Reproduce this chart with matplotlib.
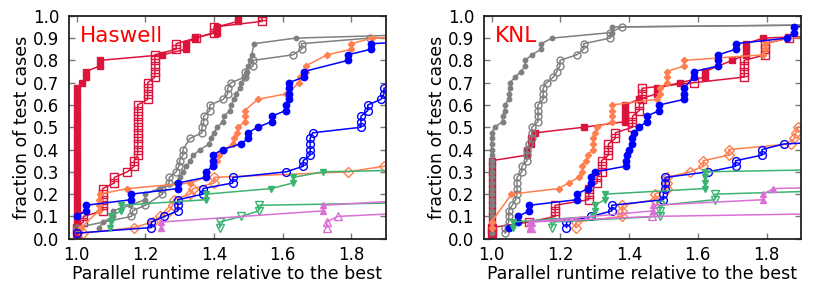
import matplotlib
matplotlib.use("Agg")
import matplotlib.pyplot as plt

# ---------------- Haswell ----------------
h_crimson_f_x = [1.0]*27 + [1.017, 1.027, 1.027, 1.068, 1.068, 1.25, 1.318, 1.318, 1.344, 1.408, 1.408, 1.47, 1.47]
h_crimson_f_y = [0.025, 0.05, 0.075, 0.1, 0.125, 0.15, 0.175, 0.2, 0.225, 0.25, 0.275, 0.3, 0.325, 0.35,
                 0.375, 0.4, 0.425, 0.45, 0.475, 0.5, 0.525, 0.55, 0.575, 0.6, 0.625, 0.65, 0.675,
                 0.7, 0.725, 0.75, 0.775, 0.8, 0.825, 0.85, 0.875, 0.9, 0.925, 0.95, 0.975, 1.0]
h_crimson_o_x = [1.0, 1.0, 1.02, 1.02, 1.076, 1.076, 1.076, 1.076, 1.076, 1.11, 1.11, 1.148, 1.168, 1.168,
                 1.178, 1.178, 1.178, 1.178, 1.178, 1.178, 1.178, 1.178, 1.178, 1.178,
                 1.207, 1.207, 1.207, 1.207, 1.228, 1.228, 1.228, 1.228, 1.228,
                 1.29, 1.29, 1.347, 1.40, 1.40, 1.54, 1.54]
h_crimson_o_y = [0.025, 0.05, 0.075, 0.1, 0.125, 0.15, 0.175, 0.2, 0.225, 0.25, 0.275, 0.3, 0.325, 0.35,
                 0.375, 0.4, 0.425, 0.45, 0.475, 0.5, 0.525, 0.55, 0.575, 0.6,
                 0.625, 0.65, 0.675, 0.7, 0.725, 0.75, 0.775, 0.8, 0.825,
                 0.85, 0.875, 0.9, 0.925, 0.95, 0.975, 1.0]
h_gray_f_x = [1.066, 1.077, 1.106, 1.106, 1.155, 1.2, 1.2, 1.24, 1.29, 1.30, 1.31, 1.32, 1.33, 1.34, 1.36,
              1.386, 1.39, 1.40, 1.41, 1.426, 1.43, 1.446, 1.45, 1.458, 1.465, 1.475, 1.48, 1.49, 1.495,
              1.50, 1.505, 1.51, 1.517, 1.638, 2.2]
h_gray_f_y = [0.05, 0.075, 0.1, 0.125, 0.15, 0.175, 0.2, 0.225, 0.25, 0.275, 0.3, 0.325, 0.35, 0.375, 0.4,
              0.425, 0.45, 0.475, 0.5, 0.525, 0.55, 0.575, 0.6, 0.625, 0.65, 0.675, 0.7, 0.725, 0.75,
              0.775, 0.8, 0.825, 0.875, 0.9, 0.925]
h_gray_o_x = [1.0, 1.16, 1.163, 1.2, 1.25, 1.25, 1.27, 1.27, 1.29, 1.298, 1.30, 1.31, 1.31, 1.33, 1.365,
              1.365, 1.37, 1.37, 1.388, 1.388, 1.427, 1.44, 1.44, 1.45, 1.49, 1.49, 1.514, 1.514, 1.63,
              1.655, 1.655, 1.853, 2.5]
h_gray_o_y = [0.05, 0.1, 0.125, 0.15, 0.2, 0.225, 0.25, 0.275, 0.3, 0.325, 0.35, 0.375, 0.4, 0.45, 0.475,
              0.5, 0.525, 0.55, 0.575, 0.6, 0.625, 0.65, 0.675, 0.7, 0.725, 0.75, 0.775, 0.8, 0.825,
              0.85, 0.875, 0.9, 0.925]
h_coral_f_x = [1.013, 1.065, 1.065, 1.065, 1.068, 1.148, 1.33, 1.376, 1.38, 1.40, 1.41, 1.415, 1.43, 1.455,
               1.458, 1.466, 1.47, 1.49, 1.49, 1.49, 1.527, 1.61, 1.648, 1.65, 1.667, 1.667, 1.73, 1.80,
               1.80, 1.86, 2.5]
h_coral_f_y = [0.05, 0.125, 0.15, 0.175, 0.2, 0.225, 0.25, 0.275, 0.3, 0.325, 0.35, 0.375, 0.4, 0.425,
               0.45, 0.475, 0.5, 0.525, 0.55, 0.575, 0.625, 0.65, 0.7, 0.725, 0.75, 0.775, 0.825, 0.85,
               0.875, 0.9, 0.925]
h_coral_o_x = [1.018, 1.167, 1.222, 1.243, 1.27, 1.28, 1.283, 1.33, 1.34, 1.40, 1.40, 1.79, 1.895, 2.2]
h_coral_o_y = [0.025, 0.05, 0.075, 0.1, 0.125, 0.15, 0.175, 0.2, 0.225, 0.25, 0.275, 0.3, 0.325, 0.35]
h_blue_f_x = [1.0, 1.027, 1.027, 1.16, 1.16, 1.295, 1.295, 1.376, 1.376, 1.396, 1.396, 1.396, 1.425, 1.478,
              1.499, 1.499, 1.527, 1.568, 1.568, 1.61, 1.61, 1.618, 1.618, 1.618, 1.618, 1.662, 1.662,
              1.79, 1.79, 1.857, 1.857, 2.2]
h_blue_f_y = [0.1, 0.125, 0.15, 0.175, 0.2, 0.225, 0.25, 0.275, 0.3, 0.325, 0.35, 0.375, 0.4, 0.425,
              0.45, 0.475, 0.5, 0.525, 0.55, 0.575, 0.6, 0.625, 0.65, 0.675, 0.7, 0.725, 0.75,
              0.8, 0.825, 0.85, 0.875, 0.9]
h_blue_o_x = [1.0, 1.218, 1.218, 1.255, 1.295, 1.295, 1.295, 1.368, 1.368, 1.455, 1.455, 1.61, 1.66, 1.66,
              1.68, 1.68, 1.68, 1.68, 1.687, 1.828, 1.828, 1.828, 1.848, 1.848, 1.886, 1.895, 1.895, 1.95]
h_blue_o_y = [0.025, 0.05, 0.075, 0.1, 0.125, 0.15, 0.175, 0.2, 0.225, 0.25, 0.275, 0.3, 0.325, 0.35,
              0.375, 0.4, 0.425, 0.45, 0.475, 0.5, 0.525, 0.55, 0.575, 0.6, 0.625, 0.65, 0.675, 0.7]
h_green_f_x = [1.097, 1.1, 1.1, 1.13, 1.13, 1.378, 1.378, 1.567, 1.63, 1.63, 1.718, 2.5]
h_green_f_y = [0.05, 0.075, 0.1, 0.125, 0.15, 0.175, 0.2, 0.225, 0.25, 0.275, 0.3, 0.325]
h_green_o_x = [1.417, 1.417, 1.48, 1.53, 1.53, 2.5]
h_green_o_y = [0.05, 0.075, 0.1, 0.125, 0.15, 0.175]
h_orchid_f_x = [1.247, 1.247, 1.718, 1.718, 2.0]
h_orchid_f_y = [0.05, 0.075, 0.125, 0.15, 0.175]
h_orchid_o_x = [1.728, 1.728, 1.76, 2.1]
h_orchid_o_y = [0.05, 0.075, 0.1, 0.125]

# ---------------- KNL ----------------
k_crimson_f_x = [1.0]*14 + [1.103, 1.103, 1.115, 1.115, 1.127, 1.268, 1.388, 1.388, 1.388, 1.388, 1.428,
                            1.48, 1.48, 1.548, 1.62, 1.62, 1.70, 1.74, 1.74, 1.74, 1.79, 2.2]
k_crimson_f_y = [0.025, 0.05, 0.075, 0.1, 0.125, 0.15, 0.175, 0.2, 0.225, 0.25, 0.275, 0.3, 0.325, 0.35,
                 0.375, 0.4, 0.425, 0.45, 0.475, 0.5, 0.525, 0.55, 0.575, 0.6, 0.625, 0.65, 0.675,
                 0.7, 0.725, 0.75, 0.8, 0.825, 0.85, 0.875, 0.9, 0.925]
k_crimson_o_x = [1.0, 1.0, 1.11, 1.185, 1.185, 1.185, 1.283, 1.283, 1.283, 1.307, 1.307, 1.32, 1.32, 1.32,
                 1.34, 1.34, 1.34, 1.36, 1.36, 1.41, 1.41, 1.41, 1.43, 1.43, 1.438, 1.438, 1.438, 1.588,
                 1.735, 1.735, 1.735, 1.735, 1.796, 1.796, 1.796, 1.865, 2.2]
k_crimson_o_y = [0.025, 0.05, 0.075, 0.1, 0.125, 0.15, 0.175, 0.2, 0.225, 0.25, 0.275, 0.3, 0.325, 0.35,
                 0.375, 0.4, 0.425, 0.45, 0.475, 0.5, 0.525, 0.55, 0.575, 0.6, 0.625, 0.65, 0.675, 0.7,
                 0.725, 0.75, 0.775, 0.8, 0.825, 0.85, 0.875, 0.9, 0.925]
k_gray_f_x = [1.0]*19 + [1.009, 1.032, 1.032, 1.038, 1.038, 1.05, 1.05, 1.053, 1.053, 1.069, 1.085,
                         1.098, 1.098, 1.117, 1.145, 1.145, 1.176, 1.35, 1.35, 3.0]
k_gray_f_y = [0.025, 0.05, 0.075, 0.1, 0.125, 0.15, 0.175, 0.2, 0.225, 0.25, 0.275, 0.3, 0.325, 0.35,
              0.375, 0.4, 0.425, 0.45, 0.475, 0.5, 0.525, 0.55, 0.575, 0.6, 0.625, 0.65, 0.675, 0.7,
              0.725, 0.75, 0.775, 0.8, 0.825, 0.85, 0.875, 0.9, 0.925, 0.95, 0.975]
k_gray_o_x = [1.04, 1.04, 1.05, 1.05, 1.05, 1.06, 1.07, 1.074, 1.074, 1.074, 1.074, 1.088, 1.088, 1.103,
              1.103, 1.103, 1.11, 1.117, 1.117, 1.117, 1.135, 1.135, 1.135, 1.135, 1.15, 1.15, 1.15,
              1.16, 1.18, 1.19, 1.199, 1.199, 1.248, 1.268, 1.268, 1.345, 1.345, 1.38, 3.0]
k_gray_o_y = [0.025, 0.05, 0.075, 0.1, 0.125, 0.15, 0.175, 0.2, 0.225, 0.25, 0.275, 0.3, 0.325, 0.35,
              0.375, 0.4, 0.425, 0.45, 0.475, 0.5, 0.525, 0.55, 0.575, 0.6, 0.625, 0.65, 0.675, 0.7,
              0.725, 0.75, 0.775, 0.8, 0.825, 0.85, 0.875, 0.9, 0.925, 0.95, 0.975]
k_coral_f_x = [1.0, 1.0, 1.058, 1.195, 1.224, 1.253, 1.263, 1.263, 1.275, 1.28, 1.296, 1.296, 1.296, 1.30,
               1.307, 1.35, 1.35, 1.35, 1.35, 1.48, 1.49, 1.49, 1.51, 1.51, 1.51, 1.56, 1.56, 1.79,
               1.796, 1.796, 1.86, 2.2]
k_coral_f_y = [0.05, 0.075, 0.2, 0.225, 0.25, 0.275, 0.3, 0.325, 0.35, 0.375, 0.4, 0.425, 0.45, 0.475,
               0.5, 0.525, 0.55, 0.575, 0.6, 0.625, 0.65, 0.675, 0.7, 0.725, 0.75, 0.775, 0.8, 0.825,
               0.85, 0.875, 0.9, 0.925]
k_coral_o_x = [1.245, 1.245, 1.38, 1.38, 1.38, 1.475, 1.475, 1.51, 1.51, 1.51, 1.578, 1.616, 1.616, 1.69,
               1.69, 1.87, 1.88, 1.885, 1.89, 2.0]
k_coral_o_y = [0.05, 0.075, 0.1, 0.125, 0.15, 0.175, 0.2, 0.225, 0.25, 0.275, 0.3, 0.325, 0.35, 0.375,
               0.4, 0.425, 0.45, 0.475, 0.5, 0.525]
k_blue_f_x = [1.05, 1.077, 1.077, 1.11, 1.11, 1.248, 1.248, 1.28, 1.29, 1.29, 1.30, 1.39, 1.39, 1.395,
              1.40, 1.41, 1.41, 1.415, 1.428, 1.452, 1.452, 1.488, 1.488, 1.56, 1.56, 1.56, 1.588,
              1.588, 1.66, 1.66, 1.66, 1.71, 1.71, 1.86, 1.88, 1.88, 2.2]
k_blue_f_y = [0.05, 0.075, 0.1, 0.125, 0.15, 0.175, 0.2, 0.225, 0.25, 0.275, 0.3, 0.325, 0.35, 0.375,
              0.4, 0.425, 0.45, 0.475, 0.5, 0.525, 0.55, 0.575, 0.6, 0.625, 0.65, 0.675, 0.725,
              0.75, 0.775, 0.8, 0.825, 0.85, 0.875, 0.9, 0.925, 0.95, 0.975]
k_blue_o_x = [1.218, 1.218, 1.29, 1.35, 1.35, 1.50, 1.50, 1.505, 1.505, 1.505, 1.631, 1.71, 1.71, 1.787,
              1.787, 1.85, 2.2]
k_blue_o_y = [0.05, 0.075, 0.1, 0.125, 0.15, 0.175, 0.2, 0.225, 0.25, 0.275, 0.3, 0.325, 0.35, 0.375,
              0.4, 0.425, 0.45]
k_green_f_x = [1.063, 1.063, 1.296, 1.30, 1.30, 1.33, 1.33, 1.62, 1.62, 1.62, 1.62, 2.5]
k_green_f_y = [0.05, 0.075, 0.1, 0.125, 0.15, 0.175, 0.2, 0.225, 0.25, 0.275, 0.3, 0.325]
k_green_o_x = [1.175, 1.175, 1.49, 1.49, 1.49, 1.65, 1.65, 2.2]
k_green_o_y = [0.05, 0.075, 0.1, 0.125, 0.15, 0.175, 0.2, 0.225]
k_orchid_f_x = [1.112, 1.112, 1.47, 1.47, 1.79, 1.79, 1.82, 2.5]
k_orchid_f_y = [0.05, 0.075, 0.125, 0.15, 0.175, 0.2, 0.225, 0.25]
k_orchid_o_x = [1.115, 1.115, 1.467, 2.5]
k_orchid_o_y = [0.05, 0.075, 0.1, 0.125]

x_ticks = [1.0, 1.2, 1.4, 1.6, 1.8]
x_ticklabels = ["1.0", "1.2", "1.4", "1.6", "1.8"]
y_ticks = [0.0, 0.1, 0.2, 0.3, 0.4, 0.5, 0.6, 0.7, 0.8, 0.9, 1.0]
y_ticklabels = ["0.0", "0.1", "0.2", "0.3", "0.4", "0.5", "0.6", "0.7", "0.8", "0.9", "1.0"]
panel_titles = ["Haswell", "KNL"]
xlabel = "Parallel runtime relative to the best"
ylabel = "fraction of test cases"

CRIMSON = "#dc143c"
GRAY = "#808080"
CORAL = "#ff7f50"
BLUE = "#0000ff"
GREEN = "#3cb371"
ORCHID = "#da70d6"

plt.rcParams["font.family"] = ["DejaVu Sans"]

fig = plt.figure(figsize=(8.3, 2.91), dpi=100)
axes = [fig.add_axes([0.0831, 0.1797, 0.3816, 0.766]),
        fig.add_axes([0.5831, 0.1797, 0.3819, 0.766])]


def draw(ax, d):
    specs = [
        ("crimson_f", CRIMSON, "s", 3.8, True),
        ("crimson_o", CRIMSON, "s", 5.8, False),
        ("gray_f", GRAY, "o", 3.2, True),
        ("gray_o", GRAY, "o", 5.0, False),
        ("coral_f", CORAL, "D", 3.2, True),
        ("coral_o", CORAL, "D", 4.6, False),
        ("blue_f", BLUE, "o", 4.6, True),
        ("blue_o", BLUE, "o", 5.6, False),
        ("green_f", GREEN, "v", 4.0, True),
        ("green_o", GREEN, "v", 5.6, False),
        ("orchid_f", ORCHID, "^", 4.0, True),
        ("orchid_o", ORCHID, "^", 5.6, False),
    ]
    for key, col, mk, ms, filled in specs:
        xs, ys = d[key]
        ax.plot(xs, ys, color=col, lw=1.1, marker=mk, ms=ms,
                mfc=col if filled else "none", mec=col, mew=1.0)


h_data = {
    "crimson_f": (h_crimson_f_x, h_crimson_f_y), "crimson_o": (h_crimson_o_x, h_crimson_o_y),
    "gray_f": (h_gray_f_x, h_gray_f_y), "gray_o": (h_gray_o_x, h_gray_o_y),
    "coral_f": (h_coral_f_x, h_coral_f_y), "coral_o": (h_coral_o_x, h_coral_o_y),
    "blue_f": (h_blue_f_x, h_blue_f_y), "blue_o": (h_blue_o_x, h_blue_o_y),
    "green_f": (h_green_f_x, h_green_f_y), "green_o": (h_green_o_x, h_green_o_y),
    "orchid_f": (h_orchid_f_x, h_orchid_f_y), "orchid_o": (h_orchid_o_x, h_orchid_o_y),
}
k_data = {
    "crimson_f": (k_crimson_f_x, k_crimson_f_y), "crimson_o": (k_crimson_o_x, k_crimson_o_y),
    "gray_f": (k_gray_f_x, k_gray_f_y), "gray_o": (k_gray_o_x, k_gray_o_y),
    "coral_f": (k_coral_f_x, k_coral_f_y), "coral_o": (k_coral_o_x, k_coral_o_y),
    "blue_f": (k_blue_f_x, k_blue_f_y), "blue_o": (k_blue_o_x, k_blue_o_y),
    "green_f": (k_green_f_x, k_green_f_y), "green_o": (k_green_o_x, k_green_o_y),
    "orchid_f": (k_orchid_f_x, k_orchid_f_y), "orchid_o": (k_orchid_o_x, k_orchid_o_y),
}

for ax, d, title in zip(axes, [h_data, k_data], panel_titles):
    draw(ax, d)
    ax.set_xlim(0.978, 1.9)
    ax.set_ylim(0.0, 1.0)
    ax.set_xticks(x_ticks)
    ax.set_xticklabels(x_ticklabels)
    ax.set_yticks(y_ticks)
    ax.set_yticklabels(y_ticklabels)
    ax.tick_params(direction="in", top=True, right=True, length=4, width=1.0,
                   color="#777777", labelsize=12, labelcolor="black")
    ax.tick_params(axis="y", pad=7)
    ax.tick_params(axis="x", pad=5)
    for sp in ax.spines.values():
        sp.set_linewidth(1.3)
        sp.set_color("#222222")
    ax.set_xlabel(xlabel, fontsize=12.5, labelpad=1)
    ax.set_ylabel(ylabel, fontsize=12.5, labelpad=1)
    ax.text(0.035, 0.883, title, transform=ax.transAxes, color="red", fontsize=15.5,
            ha="left", va="baseline")

fig.savefig("out.png", dpi=100)
